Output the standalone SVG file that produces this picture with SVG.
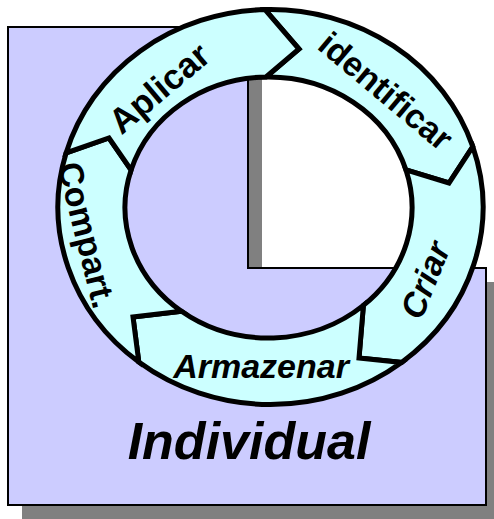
<svg xmlns="http://www.w3.org/2000/svg" width="494" height="519" viewBox="0 0 494 519">
<style>
.seg{fill:#CCFFFF;stroke:#000;stroke-width:5;stroke-linejoin:miter}
.lbl{font-family:"Liberation Sans",Arial,sans-serif;font-weight:bold;font-size:34px;fill:#000;text-anchor:middle}
.it{font-style:italic}
</style>
<rect width="494" height="519" fill="#fff"/>
<g id="background">
<polygon points="22,41 262,41 262,282 500,282 500,519 22,519" fill="#808080"/>
<polygon points="8,27 248,27 248,268 486,268 486,505 8,505" fill="#CCCCFF" stroke="#000" stroke-width="2"/>
</g>
<g id="connectors"></g>
<g id="node-identificar">
<path class="seg" d="M265,9.6 A212.5,197.5 0 0 1 472.8,146.6 L449,183 L405.9,169.8 A143.5,130.5 0 0 0 266,77 L299,49 Z"/>
<text class="lbl" transform="translate(386,91) rotate(40)" dy="0.35em">identificar</text>
</g>
<g id="node-criar">
<path class="seg" d="M472.8,146.6 A212.5,197.5 0 0 1 401.6,362.4 L359,358 L363.4,305.4 A143.5,130.5 0 0 0 405.9,169.8 L449,183 Z"/>
<text class="lbl it" transform="translate(425,280) rotate(-68)" dy="0.35em">Criar</text>
</g>
<g id="node-armazenar">
<path class="seg" d="M401.6,362.4 A212.5,197.5 0 0 1 138.8,362 L133,317 L181.5,311.3 A143.5,130.5 0 0 0 363.4,305.4 L359,358 Z"/>
<text class="lbl it" x="261" y="378">Armazenar</text>
</g>
<g id="node-compart">
<path class="seg" d="M138.8,362 A212.5,197.5 0 0 1 66.1,152.9 L109,138 L131.1,170 A143.5,130.5 0 0 0 181.5,311.3 L133,317 Z"/>
<text class="lbl" transform="translate(87,235) rotate(76)" dy="0.35em">Compart.</text>
</g>
<g id="node-aplicar">
<path class="seg" d="M66.1,152.9 A212.5,197.5 0 0 1 265,9.6 L299,49 L266,77 A143.5,130.5 0 0 0 131.1,170 L109,138 Z"/>
<text class="lbl" transform="translate(159,88) rotate(-40)" dy="0.35em" style="font-size:35px">Aplicar</text>
</g>
<g id="label-individual">
<text class="lbl it" x="249" y="459" style="font-size:52px">Individual</text>
</g>
</svg>
